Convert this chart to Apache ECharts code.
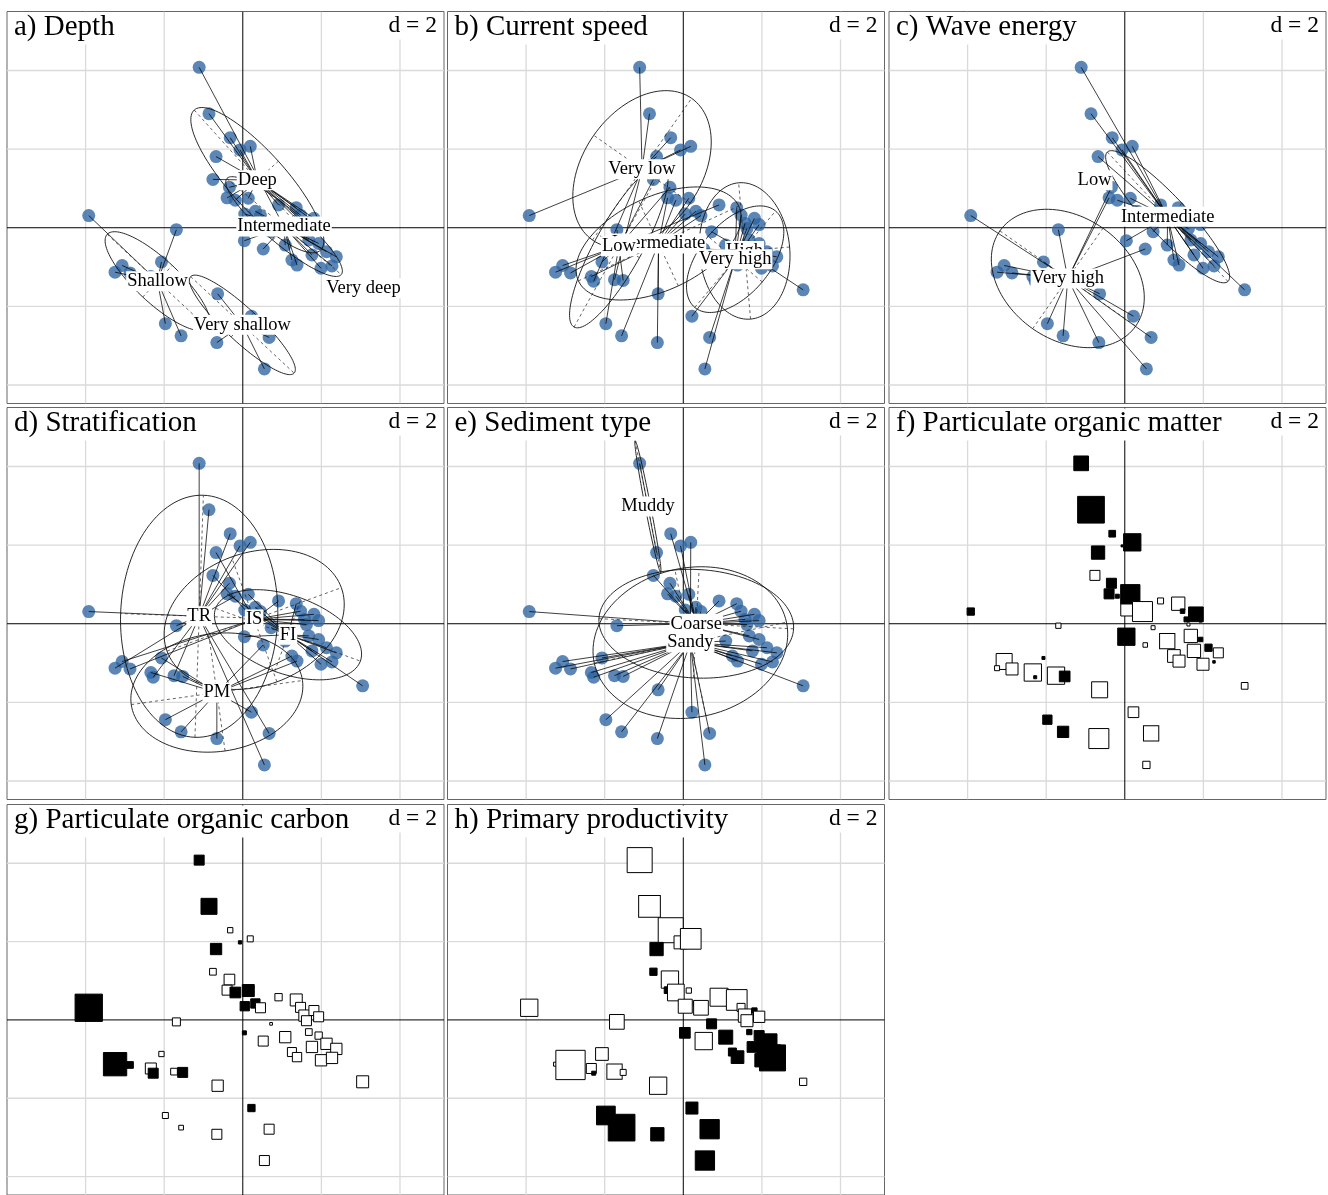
<!DOCTYPE html>
<html><head><meta charset="utf-8">
<script src="https://cdn.jsdelivr.net/npm/echarts@6/dist/echarts.min.js"></script>
<style>html,body{margin:0;padding:0;background:#fff}#c{width:1328px;height:1195px}</style>
</head><body><div id="c"></div>
<script>
// ---------- data ----------
const sampleX = [-1.11,-0.86,-0.32,-0.07,0.19,-0.68,-0.76,-0.34,-0.40,-0.19,0.14,0.05,0.32,0.45,0.91,1.36,1.47,1.57,1.62,1.81,1.93,
 -3.92,-1.69,-2.07,-3.07,-3.25,-2.87,-2.34,-2.28,-1.75,-1.53,
 -0.64,-1.97,-1.57,-0.66,0.22,0.67,0.55,
 3.05,
 0.04,0.52,0.72,1.08,1.25,1.38,1.68,1.76,1.93,2.13,2.38,1.99,2.27];
const sampleY = [4.08,2.90,2.29,1.98,2.07,1.81,1.23,1.03,0.76,0.70,0.75,0.35,0.42,0.31,0.58,0.51,0.32,0.11,-0.02,0.24,0.08,
 0.31,-0.05,-0.87,-0.96,-1.13,-1.15,-1.24,-1.36,-1.32,-1.34,
 -1.68,-2.44,-2.75,-2.92,-2.25,-2.79,-3.59,
 -1.58,
 -0.33,-0.54,-0.10,-0.44,-0.82,-0.95,-0.31,-0.69,-0.40,-0.61,-0.74,-1.03,-0.97];

const depthGroups = ['Deep','Intermediate','Shallow','Very deep','Very shallow'];
const depthOf = [1,0,0,0,0,0,0,0,0,0,0,1,1,1,0,0,0,0,0,0,0, 2,2,2,2,2,2,2,2,2,2, 4,2,2,4,4,4,4, 3, 1,1,1,1,1,1,1,1,1,1,1,1,1];
const depthCx = [0.37,1.05,-2.17,3.07,-0.01];
const depthCy = [1.21,0.03,-1.36,-1.54,-2.47];
const depthA = [2.4,1.9,1.75,0,1.8];
const depthB = [0.72,0.45,0.55,0,0.42];
const depthAngle = [-48,-40,-43,0,-43];

const currentGroups = ['High','Intermediate','Low','Very high','Very low'];
const currentOf = [4,4,4,4,4,4,2,2,1,1,1,1,1,1,2,3,3,3,3,3,3, 4,2,2,2,2,2,1,4,4,2, 1,2,1,1,3,3,3, 0, 1,0,0,0,0,0,3,0,3,0,0,0,0];
const currentCx = [1.56,-0.63,-1.64,1.32,-1.05];
const currentCy = [-0.59,-0.40,-0.47,-0.80,1.49];
const currentA = [1.74,2.25,2.35,1.6,2.2];
const currentB = [1.15,1.19,0.6,0.9,1.5];
const currentAngle = [95,25,61,50,55];

const waveGroups = ['Intermediate','Low','Very high'];
const waveOf = [0,0,0,0,0,0,1,2,2,0,0,0,0,0,0,0,0,0,0,0,0, 2,2,2,2,2,2,2,2,2,2, 2,2,2,2,2,2,2, 0, 0,2,0,0,0,0,0,0,0,0,0,0,0];
const waveCx = [1.09,-0.77,-1.45];
const waveCy = [0.28,1.21,-1.29];
const waveA = [2.25,0,2.11];
const waveB = [0.5,0,1.56];
const waveAngle = [-47,0,-35];

const stratGroups = ['FI','IS','PM','TR'];
const stratOf = [3,3,3,3,3,1,1,3,0,3,0,0,0,0,1,0,1,1,1,1,1, 3,3,2,1,3,1,2,3,3,2, 2,2,2,2,2,3,3, 0, 0,2,0,0,2,2,0,0,0,0,0,0,0];
const stratCx = [1.15,0.29,-0.66,-1.11];
const stratCy = [-0.28,0.11,-1.75,0.19];
const stratA = [1.96,2.36,2.2,3.08];
const stratB = [0.99,1.69,1.5,2.0];
const stratAngle = [-20,20,8,88];

const sedGroups = ['Coarse','Muddy','Sandy'];
const sedOf = [1,1,0,0,2,1,0,0,0,0,0,0,0,0,0,0,0,0,0,0,0, 0,0,2,2,2,2,2,2,2,2, 2,2,2,2,2,2,2, 2, 0,2,0,2,2,2,0,2,0,2,2,2,2];
const sedCx = [0.33,-0.90,0.18];
const sedCy = [0.0,2.98,-0.48];
const sedA = [2.48,1.71,2.5];
const sedB = [1.38,0.07,1.9];
const sedAngle = [-3,-79,12];

const pomValues = [1.47,2.67,0.67,0.2,1.73,1.33,-1.0,1.0,1.0,0.4,1.93,-1.2,0.25,-2.0,-0.6,-1.33,0.45,0.5,-0.3,1.47,0.3,
 0.73,-0.53,0.3,-1.6,-0.5,-1.2,-1.73,0.3,-1.73,1.07,
 -1.6,0.93,1.13,-2.0,-1.07,-1.53,-0.73,
 -0.67,
 1.73,-0.45,-0.4,-1.53,-1.27,-1.2,-1.33,-1.33,0.45,0.73,-1.0,-1.2,0.25];
const pocValues = [1.0,1.6,-0.53,0.33,-0.6,1.13,-0.67,-1.07,-1.0,1.07,1.2,0.93,0.93,-1.0,-0.73,-1.2,-1.0,-1.13,-1.0,-1.0,-1.0,
 2.73,-0.8,-0.53,0.5,2.33,0.67,-1.1,1.0,-0.67,1.0,
 -1.13,-0.6,-0.47,-1.0,0.73,-1.0,-1.0,
 -1.2,
 0.4,-1.0,-0.27,-1.13,-0.9,-0.93,-0.67,-1.13,-0.73,-1.13,-1.13,-1.13,-1.13];
const ppValues = [-2.5,-2.17,-2.5,-1.3,-2.07,1.33,0.73,-1.73,0.67,-1.67,-0.53,-1.4,0.5,-1.47,-1.8,-2.07,-0.8,-1.33,-1.2,0.53,-1.13,
 -1.73,-1.47,-1.27,-1.0,-0.4,-2.93,-1.0,0.4,-1.53,-0.6,
 -1.73,1.87,2.67,1.33,1.2,1.93,1.93,
 -0.73,
 1.07,-1.73,1.0,1.4,0.8,1.27,0.53,1.07,1.0,2.0,0.8,1.33,2.6];

const gridTicks = [-4,-2,0,2,4];
const gridLabel = 'd = 2';
const panelTitles = ['a) Depth','b) Current speed','c) Wave energy','d) Stratification','e) Sediment type',
  'f) Particulate organic matter','g) Particulate organic carbon','h) Primary productivity'];

// ---------- layout & style ----------
const PANEL_LEFT = [7, 447.5, 889], PANEL_TOP = [11.5, 407.5, 804.5], PW = 437, PH = 392;
const XMIN = -6, XMAX = 5.12, YMIN = -4.47, YMAX = 5.5;
const SERIF = '"Liberation Serif","Times New Roman",serif';
const POINT_COLOR = 'rgba(45,100,160,0.78)';
const SQUARE_SCALE = 10;

const classPanels = [
  {names: depthGroups, of: depthOf, cx: depthCx, cy: depthCy, a: depthA, b: depthB, ang: depthAngle},
  {names: currentGroups, of: currentOf, cx: currentCx, cy: currentCy, a: currentA, b: currentB, ang: currentAngle},
  {names: waveGroups, of: waveOf, cx: waveCx, cy: waveCy, a: waveA, b: waveB, ang: waveAngle},
  {names: stratGroups, of: stratOf, cx: stratCx, cy: stratCy, a: stratA, b: stratB, ang: stratAngle},
  {names: sedGroups, of: sedOf, cx: sedCx, cy: sedCy, a: sedA, b: sedB, ang: sedAngle}
];
const valuePanels = [pomValues, pocValues, ppValues];

const grids = [], xAxes = [], yAxes = [], series = [], titles = [];

for (let i = 0; i < 8; i++) {
  const col = i % 3, row = Math.floor(i / 3);
  const left = PANEL_LEFT[col], top = PANEL_TOP[row];
  grids.push({left: left, top: top, width: PW, height: PH, show: true, borderColor: '#666', borderWidth: 1, backgroundColor: '#fff', containLabel: false, z: 0});
  xAxes.push({gridIndex: i, type: 'value', min: XMIN, max: XMAX, show: false});
  yAxes.push({gridIndex: i, type: 'value', min: YMIN, max: YMAX, show: false});

  // grid lines
  series.push({
    type: 'custom', xAxisIndex: i, yAxisIndex: i, z: 1, silent: true, clip: true,
    data: gridTicks.filter(t => t !== 0).map(t => [t, t]),
    renderItem: function (params, api) {
      const cs = params.coordSys, t = api.value(0);
      const px = api.coord([t, 0])[0], py = api.coord([0, t])[1];
      return {type: 'group', children: [
        {type: 'line', shape: {x1: px, y1: cs.y, x2: px, y2: cs.y + cs.height}, style: {stroke: '#dadada', lineWidth: 1.3}},
        {type: 'line', shape: {x1: cs.x, y1: py, x2: cs.x + cs.width, y2: py}, style: {stroke: '#dadada', lineWidth: 1.3}}
      ]};
    }
  });
  // zero axes
  series.push({
    type: 'custom', xAxisIndex: i, yAxisIndex: i, z: 2, silent: true, clip: true,
    data: [[0, 0]],
    renderItem: function (params, api) {
      const cs = params.coordSys, o = api.coord([0, 0]);
      return {type: 'group', children: [
        {type: 'line', shape: {x1: o[0], y1: cs.y, x2: o[0], y2: cs.y + cs.height}, style: {stroke: '#000', lineWidth: 1}},
        {type: 'line', shape: {x1: cs.x, y1: o[1], x2: cs.x + cs.width, y2: o[1]}, style: {stroke: '#000', lineWidth: 1}}
      ]};
    }
  });

  titles.push({text: panelTitles[i], left: left + 3, top: top + 1, padding: [0, 4, 3, 4], backgroundColor: '#fff', z: 20,
    textStyle: {fontFamily: SERIF, fontSize: 29, fontWeight: 'normal', color: '#000', lineHeight: 29}});
  titles.push({text: gridLabel, right: 1328 - (left + PW - 4), top: top + 1, padding: [1, 3, 2, 4], backgroundColor: '#fff', z: 20,
    textStyle: {fontFamily: SERIF, fontSize: 23.5, fontWeight: 'normal', color: '#000', lineHeight: 24}});

  if (i < 5) {
    const P = classPanels[i];
    series.push({
      type: 'scatter', xAxisIndex: i, yAxisIndex: i, z: 3, silent: true,
      symbol: 'circle', symbolSize: 13,
      itemStyle: {color: POINT_COLOR, opacity: 1},
      data: sampleX.map((x, k) => [x, sampleY[k]])
    });
    series.push({
      type: 'custom', xAxisIndex: i, yAxisIndex: i, z: 4, silent: true, clip: true,
      data: sampleX.map((x, k) => [x, sampleY[k], P.cx[P.of[k]], P.cy[P.of[k]]]),
      renderItem: function (params, api) {
        const p = api.coord([api.value(0), api.value(1)]);
        const q = api.coord([api.value(2), api.value(3)]);
        return {type: 'line', shape: {x1: p[0], y1: p[1], x2: q[0], y2: q[1]}, style: {stroke: '#000', lineWidth: 0.75}};
      }
    });
    const ell = [];
    P.names.forEach((n, g) => { if (P.a[g] > 0) ell.push([P.cx[g], P.cy[g], P.a[g], P.b[g], P.ang[g]]); });
    series.push({
      type: 'custom', xAxisIndex: i, yAxisIndex: i, z: 5, silent: true, clip: true,
      data: ell,
      renderItem: function (params, api) {
        const cx = api.value(0), cy = api.value(1), A = api.value(2), B = api.value(3), th = api.value(4) * Math.PI / 180;
        const ct = Math.cos(th), st = Math.sin(th);
        const pts = [];
        for (let k = 0; k <= 120; k++) {
          const t = k / 120 * 2 * Math.PI, ex = A * Math.cos(t), ey = B * Math.sin(t);
          pts.push(api.coord([cx + ex * ct - ey * st, cy + ex * st + ey * ct]));
        }
        const p1 = api.coord([cx - A * ct, cy - A * st]), p2 = api.coord([cx + A * ct, cy + A * st]);
        const q1 = api.coord([cx + B * st, cy - B * ct]), q2 = api.coord([cx - B * st, cy + B * ct]);
        return {type: 'group', children: [
          {type: 'polyline', shape: {points: pts}, style: {stroke: '#111', lineWidth: 0.9, fill: 'none'}},
          {type: 'line', shape: {x1: p1[0], y1: p1[1], x2: p2[0], y2: p2[1]}, style: {stroke: '#222', lineWidth: 0.7, lineDash: [3, 3]}},
          {type: 'line', shape: {x1: q1[0], y1: q1[1], x2: q2[0], y2: q2[1]}, style: {stroke: '#222', lineWidth: 0.7, lineDash: [3, 3]}}
        ]};
      }
    });
    const names = P.names;
    series.push({
      type: 'custom', xAxisIndex: i, yAxisIndex: i, z: 6, silent: true, clip: false,
      data: names.map((n, g) => [P.cx[g], P.cy[g], g]),
      renderItem: function (params, api) {
        const p = api.coord([api.value(0), api.value(1)]);
        return {type: 'text', x: p[0], y: p[1], style: {
          text: names[api.value(2)], font: '18.5px ' + SERIF, fill: '#000',
          align: 'center', verticalAlign: 'middle', textAlign: 'center', textVerticalAlign: 'middle',
          backgroundColor: '#fff', padding: [1, 1, 0, 1]
        }};
      }
    });
  } else {
    const vals = valuePanels[i - 5];
    series.push({
      type: 'scatter', xAxisIndex: i, yAxisIndex: i, z: 3, silent: true, symbol: 'rect',
      itemStyle: {borderColor: '#000', borderWidth: 1, opacity: 1},
      data: sampleX.map((x, k) => ({
        value: [x, sampleY[k]],
        symbolSize: Math.abs(vals[k]) * SQUARE_SCALE,
        itemStyle: {color: vals[k] > 0 ? '#000' : '#fff', opacity: 1}
      }))
    });
  }
}

const chart = echarts.init(document.getElementById('c'), null, {renderer: 'canvas', width: 1328, height: 1195});
chart.setOption({
  animation: false,
  backgroundColor: '#fff',
  title: titles,
  grid: grids,
  xAxis: xAxes,
  yAxis: yAxes,
  series: series
});
</script></body></html>
